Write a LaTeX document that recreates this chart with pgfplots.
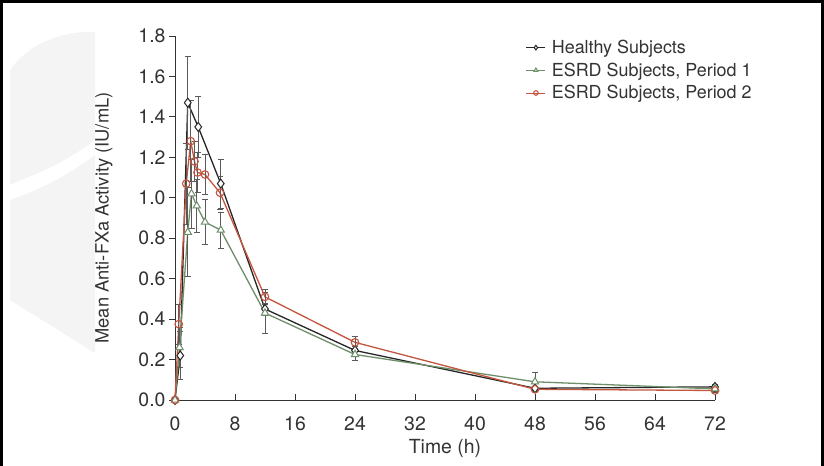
\documentclass[border=0pt]{standalone}
\usepackage{pgfplots}
\pgfplotsset{compat=1.18}
\usepackage{fontspec}
\setmainfont{TeX Gyre Heros}
\definecolor{hcol}{HTML}{262626}
\definecolor{gcol}{HTML}{6E8F6A}
\definecolor{rcol}{HTML}{C4553F}
\definecolor{ebcol}{HTML}{5A5A5A}
\definecolor{txt}{HTML}{333333}
\definecolor{wm}{HTML}{F4F4F4}
\begin{document}
\begin{tikzpicture}
\useasboundingbox (0bp,0bp) rectangle (824bp,466bp);
\fill[white] (0bp,0bp) rectangle (824bp,466bp);
% faint background logo
\fill[wm] (10bp,281bp) -- (10bp,396bp) .. controls (30bp,425bp) and (70bp,436bp) .. (95bp,434bp) -- (95bp,326bp) .. controls (60bp,300bp) and (30bp,290bp) .. cycle;
\fill[wm] (10bp,266bp) .. controls (40bp,276bp) and (70bp,292bp) .. (95bp,311bp) -- (95bp,113bp) -- (10bp,166bp) -- cycle;
\draw[line width=3bp] (1.5bp,0bp) -- (1.5bp,464.5bp) -- (822.5bp,464.5bp) -- (822.5bp,0bp);
\begin{axis}[
  at={(175bp,66bp)}, anchor=south west,
  scale only axis, width=540bp, height=364bp,
  xmin=0, xmax=72, ymin=0, ymax=1.8,
  axis x line*=bottom, axis y line*=left,
  axis line style={draw=txt, line width=0.9bp, -},
  xtick={0,8,16,24,32,40,48,56,64,72},
  ytick={0,0.2,0.4,0.6,0.8,1.0,1.2,1.4,1.6,1.8},
  tick align=outside, major tick length=6bp,
  tick style={draw=txt, line width=0.9bp},
  xtick style={yshift=6bp},
  /pgf/number format/assume math mode=true,
  ticklabel style={font=\fontsize{19.5}{23}\selectfont, text=txt},
  xticklabel style={yshift=-7bp},
  yticklabel style={/pgf/number format/.cd, fixed, fixed zerofill, precision=1},
  xlabel={Time (h)}, ylabel={Mean Anti-FXa Activity (IU/mL)},
  xlabel style={font=\fontsize{19.5}{23}\selectfont, text=txt, at={(axis description cs:0.5,-0.132)}, anchor=center},
  ylabel style={font=\fontsize{18.4}{22}\selectfont, text=txt, at={(axis description cs:-0.1315,0.5)}, anchor=center},
  clip=false,
  legend cell align=left,
  legend style={at={(axis description cs:0.644,1.0)}, anchor=north west, draw=none, fill=none,
    font=\fontsize{18}{21}\selectfont, text=txt, row sep=3.8bp,
    /tikz/every odd column/.append style={column sep=4bp}},
  legend image code/.code={\draw[mark repeat=2,mark phase=2,#1,mark size=2.3bp,line width=0.9bp] plot coordinates {(0bp,0bp) (9.5bp,0bp) (19bp,0bp)};},
  error bars/y dir=both, error bars/y explicit,
  error bars/error bar style={draw=ebcol, line width=0.7bp},
  error bars/error mark options={rotate=90, mark size=3bp, draw=ebcol, line width=0.7bp},
]
\addplot[hcol, line width=1.3bp, mark=diamond*, mark size=4.5bp, mark options={fill=white, draw=hcol, line width=1bp, solid}]
 coordinates {
 (0,0) +- (0,0)
 (0.7,0.22) +- (0,0.12)
 (1.7,1.47) +- (0,0.23)
 (3.1,1.35) +- (0,0.15)
 (6.1,1.07) +- (0,0.12)
 (12,0.45) +- (0,0.03)
 (24,0.245) +- (0,0.02)
 (48,0.058) +- (0,0.01)
 (72,0.065) +- (0,0.01)
 };
\addlegendentry{Healthy Subjects}
\addplot[gcol, line width=1.3bp, mark=triangle*, mark size=4.2bp, mark options={fill=white, draw=gcol, line width=1bp, solid}]
 coordinates {
 (0,0) +- (0,0)
 (0.6,0.26) +- (0,0.1)
 (1.7,0.83) +- (0,0.22)
 (2.2,1.02) +- (0,0.17)
 (2.9,0.96) +- (0,0.13)
 (4,0.88) +- (0,0.11)
 (6.1,0.84) +- (0,0.09)
 (12,0.43) +- (0,0.1)
 (24,0.225) +- (0,0.03)
 (48,0.09) +- (0,0.045)
 (72,0.055) +- (0,0.01)
 };
\addlegendentry{ESRD Subjects, Period 1}
\addplot[rcol, line width=1.3bp, mark=o, mark size=3.8bp, mark options={fill=white, draw=rcol, line width=1.1bp, solid}]
 coordinates {
 (0,0) +- (0,0)
 (0.5,0.375) +- (0,0.1)
 (1.5,1.07) +- (0,0.2)
 (2.1,1.28) +- (0,0.2)
 (2.6,1.18) +- (0,0.1)
 (3,1.125) +- (0,0.1)
 (4,1.115) +- (0,0.1)
 (6,1.025) +- (0,0.08)
 (12,0.51) +- (0,0.035)
 (24,0.285) +- (0,0.03)
 (48,0.053) +- (0,0.01)
 (72,0.047) +- (0,0.01)
 };
\addlegendentry{ESRD Subjects, Period 2}
\end{axis}
\end{tikzpicture}
\end{document}
